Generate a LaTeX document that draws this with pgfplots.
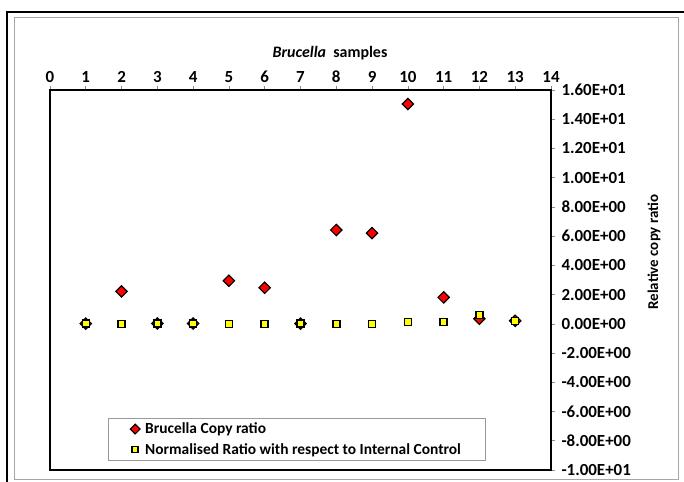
\documentclass[border=0pt]{standalone}
\usepackage{pgfplots}
\pgfplotsset{compat=1.18}
\usepackage{fontspec}
\setmainfont{Carlito}
\definecolor{xlred}{RGB}{255,0,0}
\definecolor{xlyellow}{RGB}{255,255,0}
\newcommand{\cf}{\fontsize{15.5}{18.5}\selectfont\bfseries}
\newcommand{\tf}{\fontsize{17}{20}\selectfont\bfseries}
\begin{document}
\begin{tikzpicture}
\useasboundingbox (0bp,0bp) rectangle (684bp,482bp);
\begin{scope}
\clip (0bp,0bp) rectangle (684bp,482bp);
\draw[line width=1.5bp] (7bp,-20bp) rectangle (700bp,470bp);
\end{scope}
\draw[black!35, line width=1bp] (14bp,2bp) rectangle (678bp,464bp);
\node[font=\fontsize{16}{19}\selectfont\bfseries] at (330bp,429bp) {\textit{Brucella}\ \ samples};
\node[font=\fontsize{15}{18}\selectfont\bfseries, rotate=90] at (654bp,230bp) {Relative copy ratio};
\begin{axis}[
  at={(50bp,12bp)}, anchor=south west,
  width=501bp, height=380bp, scale only axis,
  xmin=0, xmax=14, ymin=-10, ymax=16,
  xtick={0,1,...,14}, ytick={-10,-8,...,16},
  yticklabels={-1.00E+01,-8.00E+00,-6.00E+00,-4.00E+00,-2.00E+00,0.00E+00,2.00E+00,4.00E+00,6.00E+00,8.00E+00,1.00E+01,1.20E+01,1.40E+01,1.60E+01},
  xticklabel pos=right, xtick pos=right,
  yticklabel pos=right, ytick pos=right,
  tick align=outside, major tick length=4bp,
  tick style={black!45, line width=0.6bp},
  axis line style={line width=1.8bp, black},
  ticklabel style={font=\tf},
  yticklabel style={xshift=3bp},
  /pgf/number format/assume math mode=true,
  legend cell align=left,
  legend style={at={(axis description cs:0.1158,0.0237)}, anchor=south west,
    draw=black!40, line width=0.8bp, font=\cf, row sep=4bp,
    inner xsep=22bp, inner ysep=3bp},
  legend image code/.code={\path[draw=none,fill=none] (-4bp,0bp) -- (8bp,0bp);\draw[#1, scale=0.85] plot coordinates {(0bp,0bp)};},
]
\addplot[only marks, mark=square*, mark size=4bp,
  mark options={rotate=45, fill=xlred, draw=black, line width=1.2bp}]
  coordinates {(1,0.02) (2,2.22) (3,0.02) (4,0.02) (5,2.95) (6,2.47) (7,0.02) (8,6.42) (9,6.21) (10,15.04) (11,1.81) (12,0.35) (13,0.21)};
\addlegendentry{Brucella Copy ratio}
\addplot[only marks, mark=square*, mark size=3.5bp,
  mark options={fill=xlyellow, draw=black, line width=1.5bp}]
  coordinates {(1,0.03) (2,0) (3,0.03) (4,0.03) (5,0) (6,0) (7,0.03) (8,0) (9,0) (10,0.14) (11,0.14) (12,0.6) (13,0.18)};
\addlegendentry{Normalised Ratio with respect to Internal Control}
\end{axis}
\end{tikzpicture}
\end{document}
